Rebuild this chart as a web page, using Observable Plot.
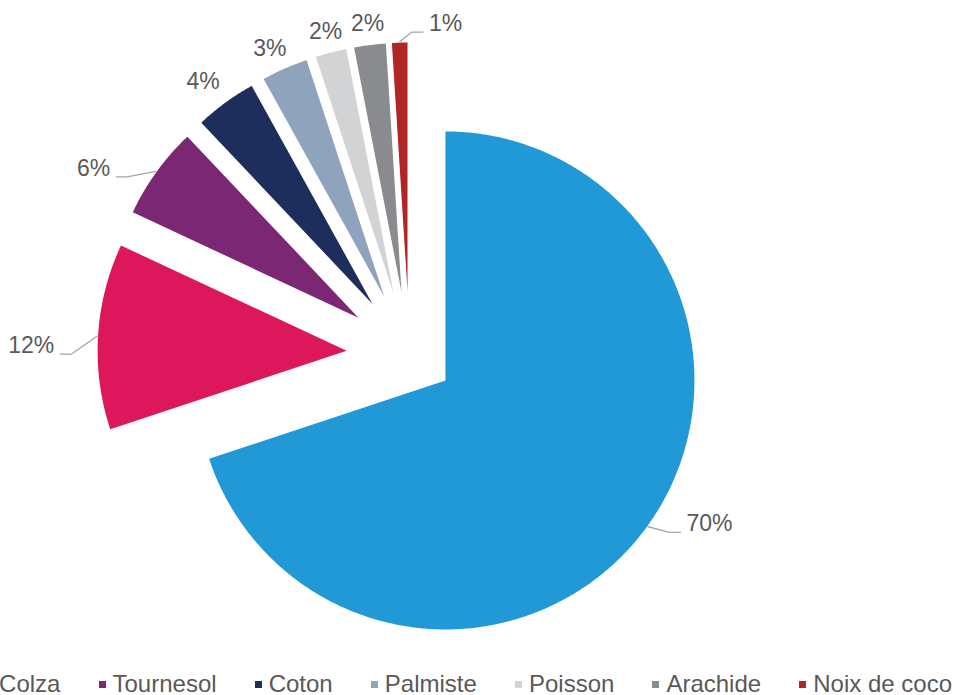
<!DOCTYPE html>
<html><head><meta charset="utf-8">
<script src="https://cdn.jsdelivr.net/npm/d3@7"></script>
<script src="https://cdn.jsdelivr.net/npm/@observablehq/plot@0.6"></script>
<style>
html,body{margin:0;padding:0;background:#fff;overflow:hidden;width:955px;height:695px;}
body{position:relative;font-family:"Liberation Sans",Arial,sans-serif;}
#chart svg{display:block;}
#legend{position:absolute;left:0;top:670.7px;width:955px;height:26px;overflow:hidden;display:flex;justify-content:flex-end;align-items:center;gap:38.1px;white-space:nowrap;font-size:24px;line-height:24px;color:#595959;padding-right:3px;box-sizing:border-box;}
.item{display:flex;align-items:center;flex:none;}
.sw{width:7px;height:7px;margin-right:7px;position:relative;top:1.3px;flex:none;}
</style></head><body>
<div id="chart"></div><div id="legend"></div>
<script>
// ---- data ----
const categories = ["Soja","Colza","Tournesol","Coton","Palmiste","Poisson","Arachide","Noix de coco"];
const shares = [69.9, 12.05, 6.0, 4.0, 3.0, 2.0, 2.05, 1.0];
const labels = ["70%","12%","6%","4%","3%","2%","2%","1%"];
const colors = ["#2199d6","#dc175c","#7b2774","#1d2d5c","#8fa3bc","#d2d3d5","#8a8b8f","#b02525"];

// ---- layout (style) ----
const labelAngleOffset = [-7.3, -2.4, -6.4, -1.2, -1.2, 0, 0.1, 9.9]; // degrees from slice mid
const labelDist = [1.207, 1.267, 1.221, 1.12, 1.096, 1.085, 1.085, 1.087]; // in radii from slice apex
const hasLeader = [true, true, true, false, false, false, false, true];
const legendFirst = 1; // the reference legend is cropped at its left edge

const R = 249, W = 955, H = 662, CX = 409, CY = 354;
const FONT = "'Liberation Sans', Arial, sans-serif";
const x0 = -CX / R, x1 = (W - CX) / R, y0 = -(H - CY) / R, y1 = CY / R;
const px = v => v / R;

const pie = d3.pie().sort(null).value(d => d.v).startAngle(0).endAngle(2 * Math.PI);
const arcs = pie(categories.map((c, i) => ({name: c, v: shares[i]})));

const ctx = document.createElement("canvas").getContext("2d");
ctx.font = "23px " + FONT;

const sliceRows = [], labelRows = [], leaderRows = [];
arcs.forEach((a, i) => {
  const name = categories[i];
  const mid = (a.startAngle + a.endAngle) / 2;
  const e = i === 0 ? 0.178 : 0.253;
  const ax = e * Math.sin(mid), ay = e * Math.cos(mid);
  sliceRows.push({name, x: ax, y: ay});
  const n = Math.max(2, Math.ceil((a.endAngle - a.startAngle) / (Math.PI / 360)));
  for (let k = 0; k <= n; k++) {
    const t = a.startAngle + (a.endAngle - a.startAngle) * k / n;
    sliceRows.push({name, x: ax + Math.sin(t), y: ay + Math.cos(t)});
  }
  sliceRows.push({name, x: ax, y: ay});

  const la = mid + labelAngleOffset[i] * Math.PI / 180;
  const lx = ax + labelDist[i] * Math.sin(la), ly = ay + labelDist[i] * Math.cos(la);
  labelRows.push({x: lx, y: ly, text: labels[i]});

  if (hasLeader[i]) {
    const w = ctx.measureText(labels[i]).width;
    const sx = ax + 1.004 * Math.sin(mid), sy = ay + 1.004 * Math.cos(mid);
    const by = ly - px(8.5);
    const side = lx < sx ? 1 : -1;
    const edge = lx + side * px(w / 2);
    leaderRows.push({id: i, x: sx, y: sy});
    leaderRows.push({id: i, x: edge + side * px(17), y: by});
    leaderRows.push({id: i, x: edge + side * px(6), y: by});
  }
});

const chart = Plot.plot({
  width: W, height: H, margin: 0,
  x: {domain: [x0, x1], axis: null},
  y: {domain: [y0, y1], axis: null},
  color: {type: "ordinal", domain: categories, range: colors},
  style: {fontFamily: FONT, background: "white", overflow: "visible"},
  marks: [
    Plot.line(sliceRows, {x: "x", y: "y", z: "name", fill: "name", stroke: "none", curve: "linear"}),
    Plot.line(leaderRows, {x: "x", y: "y", z: "id", stroke: "#a6a6a6", strokeWidth: 1.3}),
    Plot.text(labelRows, {x: "x", y: "y", text: "text", fill: "#595959", fontSize: 23, fontFamily: FONT, textAnchor: "middle", lineAnchor: "middle"})
  ]
});
document.getElementById("chart").appendChild(chart);

const legend = document.getElementById("legend");
categories.forEach((c, i) => {
  if (i < legendFirst) return;
  const it = document.createElement("div");
  it.className = "item";
  const sw = document.createElement("span");
  sw.className = "sw";
  sw.style.background = colors[i];
  const tx = document.createElement("span");
  tx.textContent = c;
  it.appendChild(sw); it.appendChild(tx);
  legend.appendChild(it);
});
</script>
</body></html>
